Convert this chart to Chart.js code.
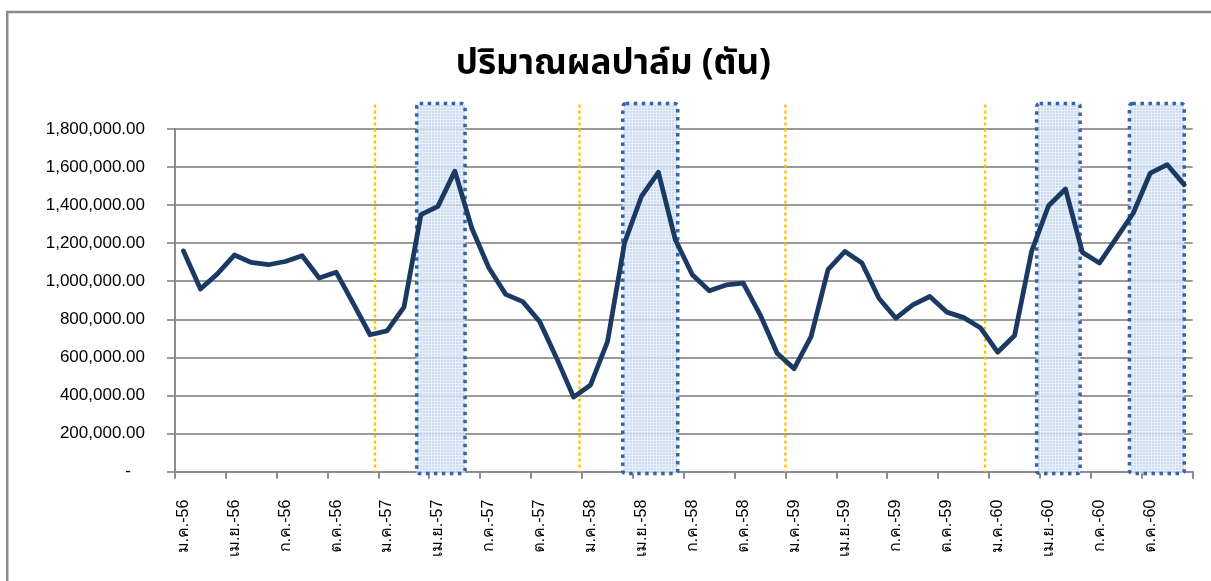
<!DOCTYPE html>
<html>
<head>
<meta charset="utf-8">
<script src="https://cdn.jsdelivr.net/npm/chart.js@4.4.1/dist/chart.umd.min.js"></script>
<style>
  html, body { margin: 0; padding: 0; background: #fff; }
  canvas { display: block; }
</style>
</head>
<body>
<canvas id="c" width="1211" height="581"></canvas>
<script>
const categories = [
  'ม.ค.-56','ก.พ.-56','มี.ค.-56','เม.ย.-56','พ.ค.-56','มิ.ย.-56','ก.ค.-56','ส.ค.-56','ก.ย.-56','ต.ค.-56','พ.ย.-56','ธ.ค.-56',
  'ม.ค.-57','ก.พ.-57','มี.ค.-57','เม.ย.-57','พ.ค.-57','มิ.ย.-57','ก.ค.-57','ส.ค.-57','ก.ย.-57','ต.ค.-57','พ.ย.-57','ธ.ค.-57',
  'ม.ค.-58','ก.พ.-58','มี.ค.-58','เม.ย.-58','พ.ค.-58','มิ.ย.-58','ก.ค.-58','ส.ค.-58','ก.ย.-58','ต.ค.-58','พ.ย.-58','ธ.ค.-58',
  'ม.ค.-59','ก.พ.-59','มี.ค.-59','เม.ย.-59','พ.ค.-59','มิ.ย.-59','ก.ค.-59','ส.ค.-59','ก.ย.-59','ต.ค.-59','พ.ย.-59','ธ.ค.-59',
  'ม.ค.-60','ก.พ.-60','มี.ค.-60','เม.ย.-60','พ.ค.-60','มิ.ย.-60','ก.ค.-60','ส.ค.-60','ก.ย.-60','ต.ค.-60','พ.ย.-60','ธ.ค.-60'
];
const palmOutput = [
  1160000, 960000, 1040000, 1139000, 1100000, 1088000, 1105000, 1135000, 1018000, 1049000, 886000, 720000,
  740000, 865000, 1351000, 1395000, 1580000, 1280000, 1072000, 932000, 894000, 789000, 597000, 392000,
  456000, 684000, 1202000, 1447000, 1574000, 1219000, 1035000, 951000, 982000, 991000, 825000, 623000,
  542000, 710000, 1062000, 1158000, 1097000, 912000, 807000, 877000, 921000, 839000, 810000, 755000,
  628000, 716000, 1158000, 1398000, 1486000, 1153000, 1097000, 1228000, 1360000, 1570000, 1614000, 1509000
];
const yTicks = [0, 200000, 400000, 600000, 800000, 1000000, 1200000, 1400000, 1600000, 1800000];
const titleText = 'ปริมาณผลปาล์ม (ตัน)';

// highlighted ranges (category boundary units) and yellow year markers
const boxStart = [14.25, 26.4, 50.8, 56.27];
const boxEnd   = [17.1, 29.64, 53.36, 59.5];
const markers  = [11.79, 23.85, 35.99, 47.76];

// choose the widest installed Thai face for the month labels
const thaiCandidates = ['Tahoma', 'Noto Sans Thai', 'Noto Sans Thai Looped', 'Noto Serif Thai', 'Loma', 'Garuda',
  'Waree', 'Umpush', 'Kinnari', 'Norasi', 'Sawasdee', 'Tlwg Typo', 'Tlwg Typist', 'Laksaman', 'Sarabun', 'TH Sarabun New'];
function pickThai() {
  const cv = document.createElement('canvas').getContext('2d');
  let best = null, bw = 0;
  cv.font = "20px 'Liberation Sans'";
  const base = cv.measureText('ม.ค.').width;
  thaiCandidates.forEach(f => {
    cv.font = "20px '" + f + "', 'Liberation Sans'";
    const w = cv.measureText('ม.ค.').width;
    if (w > bw + 0.5) { bw = w; best = f; }
  });
  return (best && bw > base + 0.5) ? "'" + best + "', " : '';
}
const THAI = pickThai();
const FONT = "'Liberation Sans', Arial, sans-serif";
const XFONT = "'Liberation Sans', Arial, " + THAI + "sans-serif";

function makePattern(ctx) {
  const t = document.createElement('canvas');
  t.width = 3; t.height = 3;
  const g = t.getContext('2d');
  g.fillStyle = '#c3d7f0';
  g.fillRect(0, 0, 3, 3);
  g.fillStyle = '#e6eef9';
  g.fillRect(0, 2, 3, 1);
  g.fillRect(2, 0, 1, 3);
  return ctx.createPattern(t, 'repeat');
}

const frame = {
  id: 'frame',
  beforeDraw(chart) {
    const ctx = chart.ctx;
    ctx.save();
    ctx.fillStyle = '#fff';
    ctx.fillRect(0, 0, chart.width, chart.height);
    ctx.strokeStyle = '#8a8a8a';
    ctx.lineWidth = 2.5;
    ctx.strokeRect(7.25, 12, 1400, 800);
    ctx.restore();
  }
};

const overlays = {
  id: 'overlays',
  beforeDatasetsDraw(chart) {
    const ctx = chart.ctx;
    const x = chart.scales.x, y = chart.scales.y;
    const px = u => x.getPixelForValue(u - 0.5);
    ctx.save();
    ctx.strokeStyle = '#FFC000';
    ctx.lineWidth = 2.4;
    ctx.setLineDash([3, 3]);
    markers.forEach(m => {
      const xx = px(m);
      ctx.beginPath();
      ctx.moveTo(xx, y.getPixelForValue(1930000));
      ctx.lineTo(xx, y.getPixelForValue(0));
      ctx.stroke();
    });
    const pat = makePattern(ctx);
    boxStart.forEach((s, i) => {
      const x0 = px(s), x1 = px(boxEnd[i]);
      const y0 = y.getPixelForValue(1935000), y1 = y.getPixelForValue(-9000);
      ctx.setLineDash([]);
      ctx.globalAlpha = 0.85;
      ctx.fillStyle = pat;
      ctx.fillRect(x0, y0, x1 - x0, y1 - y0);
      ctx.globalAlpha = 1;
      ctx.strokeStyle = '#3563a3';
      ctx.lineWidth = 3.5;
      ctx.setLineDash([3.5, 4.5]);
      ctx.beginPath();
      if (ctx.roundRect) ctx.roundRect(x0, y0, x1 - x0, y1 - y0, 3);
      else ctx.rect(x0, y0, x1 - x0, y1 - y0);
      ctx.stroke();
    });
    ctx.restore();
  }
};

new Chart(document.getElementById('c'), {
  type: 'line',
  data: {
    labels: categories,
    datasets: [{
      data: palmOutput,
      borderColor: '#1b3a63',
      borderWidth: 4.8,
      pointRadius: 0,
      tension: 0,
      fill: false,
      borderJoinStyle: 'round',
      borderCapStyle: 'round'
    }]
  },
  options: {
    responsive: false,
    animation: false,
    devicePixelRatio: 1,
    layout: { padding: { left: 34, right: 18.3, top: 0, bottom: 0 } },
    plugins: {
      legend: { display: false },
      tooltip: { enabled: false },
      title: {
        display: true,
        text: titleText,
        color: '#000',
        font: { family: "'Noto Sans Thai', 'Noto Sans', sans-serif", size: 35, weight: 'bold', lineHeight: 1.2 },
        padding: { top: 46, bottom: 41.3 }
      }
    },
    scales: {
      x: {
        offset: true,
        afterFit(s) { s.height = 109.3; s.paddingLeft = 0; s.paddingRight = 0; },
        grid: {
          offset: true,
          drawOnChartArea: false,
          drawTicks: true,
          tickLength: 7,
          lineWidth: 2,
          color: c => (c.index === undefined || c.index % 3 === 0) ? '#8c8c8c' : 'rgba(0,0,0,0)'
        },
        border: { display: true, color: '#8c8c8c', width: 2 },
        ticks: {
          autoSkip: false,
          minRotation: 90,
          maxRotation: 90,
          padding: 21,
          color: '#000',
          font: { family: XFONT, size: 16 },
          callback: (v, i) => (i % 3 === 0 ? categories[i] : '')
        }
      },
      y: {
        min: 0,
        max: 1800000,
        afterFit(s) { s.width = 141; },
        afterBuildTicks(s) { s.ticks = yTicks.map(v => ({ value: v })); },
        grid: { color: '#9a9a9a', lineWidth: 2, tickLength: 8, drawTicks: true },
        border: { display: true, color: '#8c8c8c', width: 2 },
        ticks: {
          padding: 22,
          color: '#000',
          font: { family: FONT, size: 17 },
          callback: v => v === 0 ? '-\u00a0\u00a0\u00a0' : v.toLocaleString('en-US', { minimumFractionDigits: 2, maximumFractionDigits: 2 })
        }
      }
    }
  },
  plugins: [frame, overlays]
});
</script>
</body>
</html>
